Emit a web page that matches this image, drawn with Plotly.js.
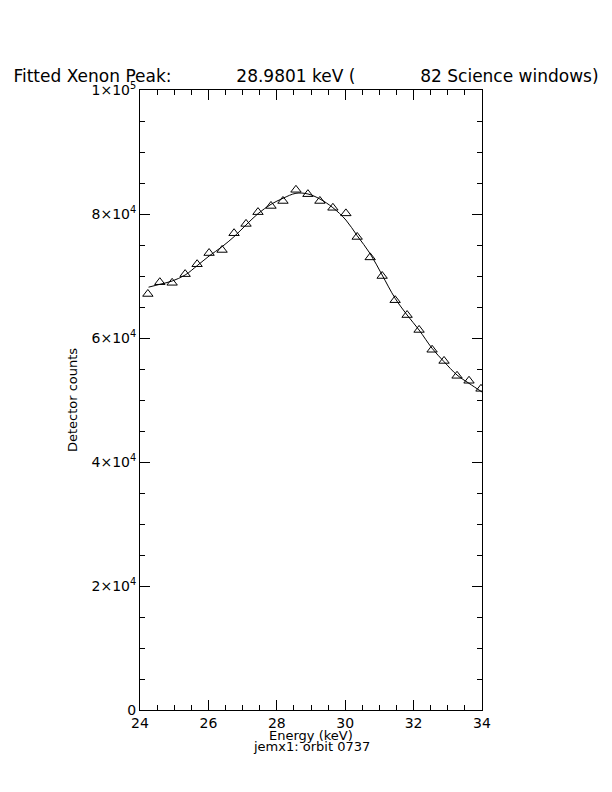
<!DOCTYPE html>
<html>
<head>
<meta charset="utf-8">
<script src="https://cdn.plot.ly/plotly-3.0.1.min.js"></script>
<style>
  html, body { margin: 0; padding: 0; background: #ffffff; }
  #chart { width: 612px; height: 792px; }
</style>
</head>
<body>
<div id="chart"></div>
<script>
// Measured data points (open triangles)
const energy = [24.23, 24.58, 24.94, 25.32, 25.67, 26.02, 26.40, 26.75, 27.10, 27.45,
                27.83, 28.18, 28.56, 28.91, 29.26, 29.64, 30.02, 30.35, 30.73, 31.08,
                31.46, 31.81, 32.16, 32.54, 32.89, 33.27, 33.62, 33.97];
const counts = [67100, 69000, 68900, 70300, 71900, 73700, 74200, 76900, 78400, 80300,
                81300, 82100, 83900, 83200, 82100, 81000, 80100, 76300, 73000, 70000,
                66100, 63700, 61300, 58100, 56300, 53900, 53100, 51800];

// Fitted curve
const fitEnergy = [24.25, 24.58, 24.94, 25.32, 25.67, 26.02, 26.40, 26.75, 27.10, 27.45,
                   27.83, 28.18, 28.56, 28.91, 29.26, 29.64, 30.02, 30.35, 30.73, 31.08,
                   31.46, 31.81, 32.16, 32.54, 32.89, 33.27, 33.62, 34.00];
const fitCounts = [68200, 68660, 69190, 70160, 71660, 73220, 74730, 76340, 78230, 80050,
                   81560, 82530, 83340, 83230, 82420, 81020, 79030, 76500, 73600, 70160,
                   66400, 63710, 61290, 58340, 56180, 54030, 52690, 51290];

// Tick labels
const xTickVals = [24, 26, 28, 30, 32, 34];
const xTickText = ['24', '26', '28', '30', '32', '34'];
const yTickVals = [0, 20000, 40000, 60000, 80000, 100000];
const yTickText = ['0', '2×10<sup>4</sup>', '4×10<sup>4</sup>', '6×10<sup>4</sup>',
                   '8×10<sup>4</sup>', '1×10<sup>5</sup>'];

const titleText = 'Fitted Xenon Peak:' + '&nbsp;'.repeat(12) + '28.9801 keV (' +
                  '&nbsp;'.repeat(12) + '82 Science windows)';
const xTitleText = 'Energy (keV)';
const subtitleText = 'jemx1: orbit 0737';

const FONT = 'DejaVu Sans, Liberation Sans, Arial, sans-serif';

const traces = [
  {
    x: energy, y: counts, type: 'scatter', mode: 'markers',
    marker: { symbol: 'triangle-up-open', size: 9, color: '#000000', line: { width: 1, color: '#000000' } },
    hoverinfo: 'x+y', showlegend: false
  },
  {
    x: fitEnergy, y: fitCounts, type: 'scatter', mode: 'lines',
    line: { color: '#000000', width: 1, shape: 'spline', smoothing: 1 },
    showlegend: false
  }
];

const axisCommon = {
  showgrid: false, zeroline: false, showline: true, linecolor: '#000000', linewidth: 1,
  mirror: 'ticks', ticks: 'inside', tickcolor: '#000000', tickwidth: 1,
  tickmode: 'array', automargin: false,
  tickfont: { family: FONT, size: 14, color: '#000000' }
};

const layout = {
  width: 612, height: 792,
  paper_bgcolor: '#ffffff', plot_bgcolor: '#ffffff',
  margin: { l: 140, r: 130, t: 90, b: 82 },
  title: {
    text: titleText,
    font: { family: FONT, size: 17, color: '#000000' },
    x: 0.5, xref: 'container', xanchor: 'center',
    y: 1 - 76 / 792, yref: 'container', yanchor: 'middle'
  },
  xaxis: Object.assign({}, axisCommon, {
    range: [24, 34], tickvals: xTickVals, ticktext: xTickText, ticklen: 10,
    minor: { dtick: 0.5, tick0: 24, ticks: 'inside', ticklen: 5, tickcolor: '#000000', tickwidth: 1, showgrid: false }
  }),
  yaxis: Object.assign({}, axisCommon, {
    range: [0, 100000], tickvals: yTickVals, ticktext: yTickText, ticklen: 10,
    minor: { dtick: 5000, tick0: 0, ticks: 'inside', ticklen: 5, tickcolor: '#000000', tickwidth: 1, showgrid: false },
    title: { text: 'Detector counts', font: { family: FONT, size: 13, color: '#000000' }, standoff: 10 }
  }),
  annotations: [
    {
      text: xTitleText, xref: 'paper', yref: 'paper', x: 0.5, y: -(735 - 710) / 620,
      xanchor: 'center', yanchor: 'middle', showarrow: false,
      font: { family: FONT, size: 13, color: '#000000' }
    },
    {
      text: subtitleText, xref: 'paper', yref: 'paper', x: 0.5, y: -(747 - 710) / 620,
      xanchor: 'center', yanchor: 'middle', showarrow: false,
      font: { family: FONT, size: 13, color: '#000000' }
    }
  ]
};

Plotly.newPlot('chart', traces, layout, { staticPlot: true, displayModeBar: false });
</script>
</body>
</html>
